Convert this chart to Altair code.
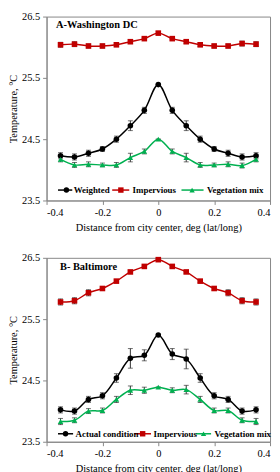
import altair as alt
import pandas as pd

# ---- data ----
dist = [-0.35, -0.3, -0.25, -0.2, -0.15, -0.1, -0.05, 0.0, 0.05, 0.1, 0.15, 0.2, 0.25, 0.3, 0.35]

a_weighted = [24.23, 24.21, 24.27, 24.34, 24.50, 24.72, 24.97, 25.39, 24.97, 24.72, 24.50, 24.34, 24.27, 24.21, 24.23]
a_weighted_err = [0.05, 0.05, 0.05, 0.04, 0.05, 0.08, 0.05, 0.0, 0.05, 0.08, 0.05, 0.04, 0.05, 0.05, 0.05]
a_imperv = [26.04, 26.05, 26.02, 26.02, 26.04, 26.09, 26.14, 26.23, 26.14, 26.09, 26.04, 26.02, 26.02, 26.06, 26.05]
a_imperv_err = [0.04, 0.04, 0.03, 0.03, 0.03, 0.03, 0.02, 0.02, 0.02, 0.03, 0.03, 0.03, 0.03, 0.04, 0.04]
a_veg = [24.17, 24.08, 24.09, 24.08, 24.08, 24.20, 24.30, 24.50, 24.30, 24.20, 24.08, 24.08, 24.09, 24.07, 24.17]
a_veg_err = [0.04, 0.04, 0.04, 0.03, 0.04, 0.07, 0.04, 0.0, 0.04, 0.07, 0.04, 0.03, 0.04, 0.04, 0.04]

b_weighted = [24.02, 24.00, 24.19, 24.25, 24.54, 24.86, 24.91, 25.24, 24.93, 24.85, 24.54, 24.25, 24.19, 24.00, 24.02]
b_weighted_err = [0.05, 0.05, 0.05, 0.05, 0.07, 0.16, 0.09, 0.0, 0.09, 0.16, 0.07, 0.05, 0.05, 0.05, 0.05]
b_imperv = [25.78, 25.80, 25.93, 26.00, 26.12, 26.27, 26.36, 26.47, 26.36, 26.27, 26.12, 26.00, 25.93, 25.80, 25.78]
b_imperv_err = [0.05, 0.05, 0.05, 0.03, 0.02, 0.02, 0.02, 0.02, 0.02, 0.02, 0.02, 0.03, 0.05, 0.05, 0.05]
b_veg = [23.83, 23.85, 24.00, 24.01, 24.19, 24.34, 24.34, 24.39, 24.34, 24.35, 24.19, 24.01, 24.01, 23.85, 23.83]
b_veg_err = [0.05, 0.04, 0.04, 0.04, 0.05, 0.07, 0.05, 0.0, 0.04, 0.07, 0.05, 0.04, 0.04, 0.04, 0.05]

series_keys = ["weighted", "impervious", "vegetation"]
a_labels = ["Weighted", "Impervious", "Vegetation mix"]
b_labels = ["Actual condition", "Impervious", "Vegetation mix"]
colors = ["#000000", "#C00000", "#00B050"]
shapes = ["circle", "square", "triangle-up"]

y_ticks = [23.5, 24.0, 24.5, 25.0, 25.5, 26.0, 26.5]
x_ticks = [-0.4, -0.2, 0.0, 0.2, 0.4]

# ---- layout (legend placement in data units) ----
a_leg = dict(y=23.67, x0=[-0.359, -0.165, 0.083], x1=[-0.308, -0.104, 0.162],
             xm=[-0.329, -0.134, 0.121], xt=[-0.303, -0.092, 0.174])
b_leg = dict(y=23.63, x0=[-0.359, -0.087, 0.134], x1=[-0.305, -0.026, 0.189],
             xm=[-0.332, -0.056, 0.162], xt=[-0.296, -0.017, 0.201])

SERIF = "Liberation Serif"
W, H = 226, 186


def make_df(vals, errs):
    rows = []
    for k, v, e in zip(series_keys, vals, errs):
        for d, yv, ev in zip(dist, v, e):
            rows.append(dict(series=k, x=d, y=yv, lo=yv - ev, hi=yv + ev))
    return pd.DataFrame(rows)


def panel(vals, errs, labels, leg, title, tx, ty):
    df = make_df(vals, errs)
    xs = alt.Scale(domain=[-0.4, 0.4], nice=False, zero=False)
    ys = alt.Scale(domain=[23.5, 26.5], nice=False, zero=False)
    col = alt.Scale(domain=series_keys, range=colors)
    shp = alt.Scale(domain=series_keys, range=shapes)
    xax = alt.Axis(values=x_ticks, labelExpr="'' + datum.value", title="Distance from city center, deg (lat/long)",
                   grid=False, tickSize=4, labelFontSize=10.5, titleFontSize=10.5, labelPadding=3, titlePadding=5)
    yax = alt.Axis(values=y_ticks, labelExpr="'' + datum.value", title="Temperature, °C",
                   grid=False, tickSize=4, labelFontSize=10.5, titleFontSize=10.5, labelPadding=3, titlePadding=3)

    base = alt.Chart(df)
    err = base.mark_errorbar(ticks=alt.MarkConfig(size=5), thickness=1, color="#333333").encode(
        x=alt.X("x:Q", scale=xs, axis=xax),
        y=alt.Y("lo:Q", scale=ys, axis=yax),
        y2="hi:Q",
        detail="series:N",
    )
    lines = base.mark_line(interpolate="catmull-rom", strokeWidth=1.5).encode(
        x=alt.X("x:Q", scale=xs, axis=xax),
        y=alt.Y("y:Q", scale=ys, axis=yax),
        color=alt.Color("series:N", scale=col, legend=None),
    )
    pts = base.mark_point(filled=True, opacity=1, size=32).encode(
        x=alt.X("x:Q", scale=xs, axis=xax),
        y=alt.Y("y:Q", scale=ys, axis=yax),
        color=alt.Color("series:N", scale=col, legend=None),
        shape=alt.Shape("series:N", scale=shp, legend=None),
    )
    ldf = pd.DataFrame(dict(series=series_keys, label=labels, x0=leg["x0"], x1=leg["x1"],
                            xm=leg["xm"], xt=leg["xt"], y=[leg["y"]] * 3))
    lb = alt.Chart(ldf)
    lrule = lb.mark_rule(strokeWidth=1.5).encode(
        x=alt.X("x0:Q", scale=xs), x2="x1:Q", y=alt.Y("y:Q", scale=ys),
        color=alt.Color("series:N", scale=col, legend=None))
    lpt = lb.mark_point(filled=True, opacity=1, size=30).encode(
        x=alt.X("xm:Q", scale=xs), y=alt.Y("y:Q", scale=ys),
        color=alt.Color("series:N", scale=col, legend=None),
        shape=alt.Shape("series:N", scale=shp, legend=None))
    ltxt = lb.mark_text(align="left", baseline="middle", font=SERIF, fontSize=9, fontWeight="bold",
                        color="#000000").encode(
        x=alt.X("xt:Q", scale=xs), y=alt.Y("y:Q", scale=ys), text="label:N")
    tdf = pd.DataFrame(dict(t=[title], x=[tx], y=[ty]))
    ttl = alt.Chart(tdf).mark_text(align="left", baseline="middle", font=SERIF, fontSize=10.5,
                                   fontWeight="bold", color="#000000").encode(
        x=alt.X("x:Q", scale=xs), y=alt.Y("y:Q", scale=ys), text="t:N")
    return alt.layer(err, lines, pts, lrule, lpt, ltxt, ttl).properties(width=W, height=H)


pa = panel([a_weighted, a_imperv, a_veg], [a_weighted_err, a_imperv_err, a_veg_err], a_labels, a_leg,
           "A-Washington DC", -0.366, 26.36)
pb = panel([b_weighted, b_imperv, b_veg], [b_weighted_err, b_imperv_err, b_veg_err], b_labels, b_leg,
           "B- Baltimore", -0.352, 26.35)

chart = alt.vconcat(pa, pb, spacing=18).properties(padding={"left": 0, "top": 0, "right": 0, "bottom": 0}).configure(
    font=SERIF
).configure_axis(
    labelFont=SERIF, titleFont=SERIF, labelColor="#000000", titleColor="#000000",
    domainColor="#888888", tickColor="#888888", titleFontWeight="normal"
).configure_view(stroke="#888888", strokeWidth=1)

chart.save("out.html", embed_options={"renderer": "svg", "actions": False})
